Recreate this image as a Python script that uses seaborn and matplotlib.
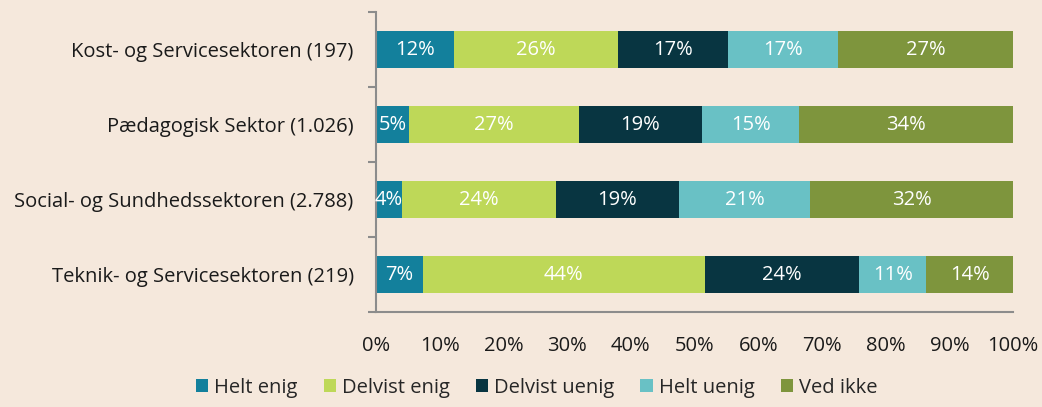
import numpy as np
import pandas as pd
import matplotlib.pyplot as plt
import seaborn as sns
from matplotlib.ticker import FixedLocator, PercentFormatter
from matplotlib.patches import Patch

# Survey answers by sector (percent of respondents)
sectors = [
    "Kost- og Servicesektoren (197)",
    "Pædagogisk Sektor (1.026)",
    "Social- og Sundhedssektoren (2.788)",
    "Teknik- og Servicesektoren (219)",
]
answers = ["Helt enig", "Delvist enig", "Delvist uenig", "Helt uenig", "Ved ikke"]

helt_enig = [12.2, 5.2, 4.1, 7.4]
delvist_enig = [25.8, 26.6, 24.1, 44.2]
delvist_uenig = [17.3, 19.4, 19.4, 24.2]
helt_uenig = [17.3, 15.2, 20.6, 10.6]
ved_ikke = [27.4, 33.6, 31.8, 13.6]

colors = ["#13809c", "#bed858", "#083541", "#69c1c5", "#7e953d"]
bg = "#f5e8dc"
grey = "#8c8c8c"
fs = 14.5

df = pd.DataFrame(
    {"sector": sectors, "Helt enig": helt_enig, "Delvist enig": delvist_enig,
     "Delvist uenig": delvist_uenig, "Helt uenig": helt_uenig, "Ved ikke": ved_ikke}
)
cum = df[answers].cumsum(axis=1)

sns.set_theme(style="white")
plt.rcParams["font.family"] = ["Open Sans", "DejaVu Sans"]

fig, ax = plt.subplots(figsize=(10.42, 4.07), dpi=100)
fig.patch.set_facecolor(bg)
ax.set_facecolor(bg)
fig.subplots_adjust(left=0.3608, right=0.9722, top=0.9705, bottom=0.2334)

# stacked bars: draw cumulative totals from the last answer to the first
for ans, col in reversed(list(zip(answers, colors))):
    sns.barplot(x=cum[ans], y=df["sector"], color=col, orient="h",
                width=0.5, linewidth=0, saturation=1, ax=ax)

# percentage labels inside the segments
for i in range(len(df)):
    for ans in answers:
        val = df.loc[i, ans]
        ax.text(cum.loc[i, ans] - val / 2, i, f"{val:.0f}%", ha="center",
                va="center", color="white", fontsize=fs)

ax.set_xlim(0, 100)
ax.set_ylim(3.5, -0.5)
ax.set_xlabel("")
ax.set_ylabel("")
ax.xaxis.set_major_locator(FixedLocator(np.arange(0, 101, 10)))
ax.xaxis.set_major_formatter(PercentFormatter(decimals=0))
ax.yaxis.set_minor_locator(FixedLocator(np.arange(-0.5, 4, 1)))

for side in ["top", "right"]:
    ax.spines[side].set_visible(False)
for side in ["left", "bottom"]:
    ax.spines[side].set_color(grey)
    ax.spines[side].set_linewidth(1.5)

ax.tick_params(axis="x", which="major", direction="out", length=7, width=1.5,
               color=grey, labelsize=fs, labelcolor="#1a1a1a", pad=10)
ax.tick_params(axis="y", which="major", length=0, labelsize=fs,
               labelcolor="#1a1a1a", pad=16)
ax.tick_params(axis="y", which="minor", direction="out", length=6, width=1.5,
               color=grey, left=True)

handles = [Patch(facecolor=c, edgecolor="none") for c in colors]
fig.legend(handles, answers, loc="lower center", bbox_to_anchor=(0.515, -0.022),
           ncol=5, frameon=False, fontsize=fs, handlelength=0.6,
           handleheight=0.6, handletextpad=0.3, columnspacing=1.3)

fig.savefig("out.png", dpi=100, facecolor=bg)
